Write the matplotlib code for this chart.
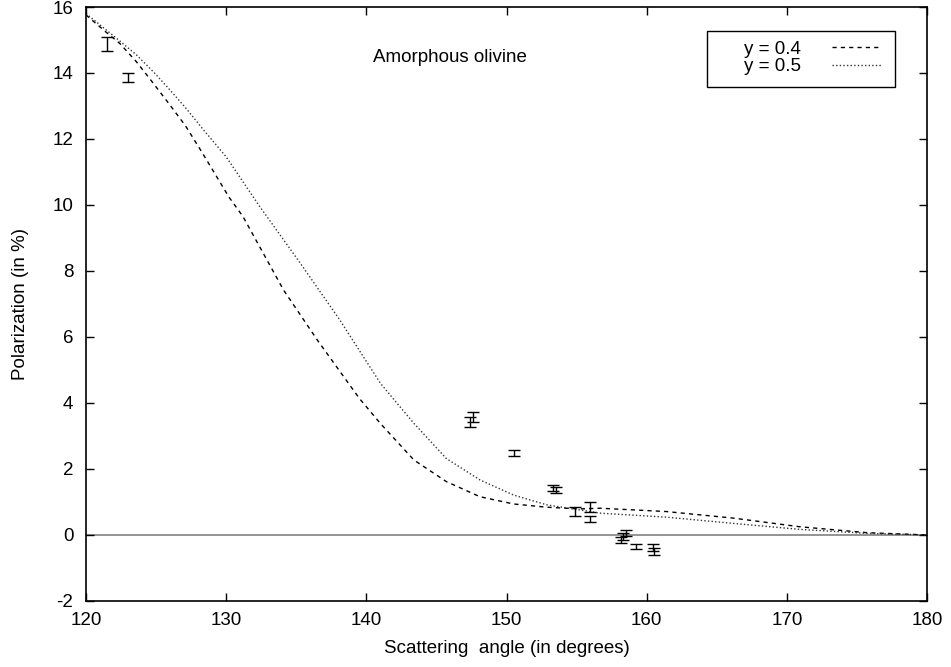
import matplotlib.pyplot as plt
from matplotlib.patches import Rectangle

# model curves
angle_04 = [120.0, 121.4, 122.4, 123.6, 124.8, 125.9, 127.1, 128.3, 130.2, 131.2,
            134.1, 136.5, 139.5, 141.0, 143.4, 145.7, 148.1, 150.5, 152.9, 155.2,
            156.7, 161.4, 166.2, 170.9, 175.7, 180.0]
pol_04 = [15.76, 15.25, 14.90, 14.34, 13.69, 13.08, 12.40, 11.58, 10.24, 9.65,
          7.42, 5.91, 4.14, 3.38, 2.27, 1.62, 1.16, 0.94, 0.84, 0.79,
          0.81, 0.71, 0.51, 0.25, 0.07, 0.0]

angle_05 = [120.0, 121.9, 123.6, 124.8, 125.9, 127.1, 128.3, 130.0, 132.4, 135.3,
            138.1, 141.0, 141.9, 143.4, 145.7, 148.1, 150.5, 152.9, 155.2, 156.7,
            161.4, 166.2, 170.9, 175.7, 180.0]
pol_05 = [15.80, 15.15, 14.55, 14.04, 13.53, 12.95, 12.32, 11.46, 9.95, 8.23,
          6.52, 4.60, 4.14, 3.38, 2.32, 1.67, 1.21, 0.91, 0.76, 0.66,
          0.54, 0.35, 0.17, 0.05, 0.0]

# measurements
obs_angle = [121.5, 123.0, 147.4, 147.6, 150.5, 153.3, 153.5, 154.9, 155.95, 155.95,
             158.2, 158.3, 158.5, 159.25, 160.45, 160.5]
obs_pol = [14.88, 13.86, 3.43, 3.58, 2.48, 1.42, 1.36, 0.71, 0.84, 0.48,
           -0.15, -0.05, 0.06, -0.36, -0.38, -0.50]
obs_err = [0.20, 0.14, 0.15, 0.15, 0.10, 0.10, 0.10, 0.15, 0.15, 0.10,
           0.10, 0.10, 0.10, 0.08, 0.10, 0.10]

x_ticks = [120, 130, 140, 150, 160, 170, 180]
y_ticks = [-2, 0, 2, 4, 6, 8, 10, 12, 14, 16]

FS = 13.5

plt.rcParams['font.family'] = ['Liberation Sans', 'DejaVu Sans']
plt.rcParams['axes.unicode_minus'] = False

fig = plt.figure(figsize=(9.51, 6.67), dpi=100)
ax = fig.add_axes([0.0904, 0.0990, 0.8844, 0.8905])

ax.axhline(0, color='#808080', linewidth=1.2, zorder=1)

ax.plot(angle_04, pol_04, color='black', linewidth=1.0, dashes=(3, 3), label='y = 0.4')
ax.plot(angle_05, pol_05, color='#333333', linewidth=1.0, dashes=(1, 1.6), label='y = 0.5')

ax.errorbar(obs_angle, obs_pol, yerr=obs_err, fmt='none', ecolor='black',
            elinewidth=1.0, capsize=4, capthick=1.0, zorder=3)

ax.text(145.96, 14.48, 'Amorphous olivine', ha='center', va='center', fontsize=FS)

ax.set_xlim(120, 180)
ax.set_ylim(-2, 16)
ax.set_xticks(x_ticks)
ax.set_yticks(y_ticks)
ax.tick_params(direction='in', length=6, width=1, top=True, right=True,
               labelsize=FS)
ax.tick_params(axis='x', pad=8)
ax.tick_params(axis='y', pad=9)
for s in ax.spines.values():
    s.set_linewidth(1.2)

ax.set_xlabel('Scattering  angle (in degrees)', fontsize=FS, labelpad=8)
ax.set_ylabel('Polarization (in %)', fontsize=FS, labelpad=17)

# legend box drawn on its own, gnuplot style
ax.add_patch(Rectangle((0.7384, 0.8653), 0.2236, 0.0943, transform=ax.transAxes,
                       fill=True, facecolor='white', edgecolor='black',
                       linewidth=1.0, zorder=4))
leg = ax.legend(loc='upper right', bbox_to_anchor=(0.946, 0.943), borderaxespad=0,
                markerfirst=False, frameon=False, fontsize=FS, borderpad=0,
                handlelength=2.67, handletextpad=1.65, labelspacing=0.0)
leg.set_zorder(5)

fig.savefig('out.png', dpi=100)
